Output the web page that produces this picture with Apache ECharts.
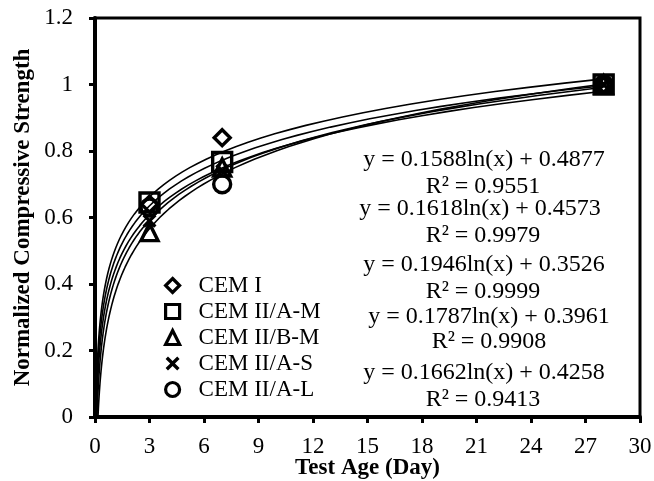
<!DOCTYPE html>
<html><head><meta charset="utf-8">
<script src="https://cdn.jsdelivr.net/npm/echarts@6/dist/echarts.min.js"></script>
<style>html,body{margin:0;padding:0;background:#fff}#c{width:654px;height:481px}</style>
</head><body><div id="c"></div>
<script>
var names = ['CEM I','CEM II/A-M','CEM II/B-M','CEM II/A-S','CEM II/A-L'];
var ages = [3, 7, 28];
var cemI   = [0.64, 0.84, 1.0];
var cemIIAM = [0.645, 0.767, 1.0];
var cemIIBM = [0.556, 0.75, 1.0];
var cemIIAS = [0.59, 0.74, 1.0];
var cemIIAL = [0.63, 0.70, 1.0];
var slopes = [0.1588, 0.1618, 0.1946, 0.1787, 0.1662];
var intercepts = [0.4877, 0.4573, 0.3526, 0.3961, 0.4258];
var r2 = ['0.9551','0.9979','0.9999','0.9908','0.9413'];
var xTicks = [0,3,6,9,12,15,18,21,24,27,30];

var values = [cemI, cemIIAM, cemIIBM, cemIIAS, cemIIAL];
var xPath = 'path://M1.7,0 L5,3.3 L8.3,0 L10,1.7 L6.7,5 L10,8.3 L8.3,10 L5,6.7 L1.7,10 L0,8.3 L3.3,5 L0,1.7 Z';
var symbols = ['diamond','rect','triangle',xPath,'circle'];
var sizes = [16,19,17,14,17];

var font = '"Liberation Serif","Times New Roman",serif';
var series = [];
// trendlines from the displayed equations
for (var i=0;i<5;i++){
  var a=slopes[i], b=intercepts[i];
  var x0 = Math.exp(-b/a);
  var pts=[[x0,0]];
  for (var k=1;k<=80;k++){ var x = x0*Math.pow(28/x0, k/80); pts.push([x, a*Math.log(x)+b]); }
  series.push({type:'line', data:pts, symbol:'none', silent:true, z:2,
    lineStyle:{color:'#000', width:1.6}, clip:true});
}
for (var j=0;j<5;j++){
  var d = ages.map(function(x,idx){return [x, values[j][idx]];});
  var isX = (j===3);
  series.push({type:'scatter', name:names[j], data:d, symbol:symbols[j], symbolSize:sizes[j], z:5,
    itemStyle: isX ? {color:'#000', borderWidth:0, opacity:1} : {color:'rgba(0,0,0,0)', borderColor:'#000', borderWidth:3.4, opacity:1}});
}
var eqTexts = [];
var eqY = [160, 209, 265, 317, 373];
var rY = [187, 236, 292, 342, 400];
var eqX = [484, 480, 484, 489, 484];
var rX = [483, 483, 483, 489, 483];
for (var m=0;m<5;m++){
  eqTexts.push({type:'text', x:eqX[m], y:eqY[m], style:{text:'y = '+slopes[m].toFixed(4)+'ln(x) + '+intercepts[m].toFixed(4), font:'24px '+font, fill:'#000', textAlign:'center', textVerticalAlign:'middle'}});
  eqTexts.push({type:'text', x:rX[m], y:rY[m], style:{text:'R² = '+r2[m], font:'24px '+font, fill:'#000', textAlign:'center', textVerticalAlign:'middle'}});
}

var chart = echarts.init(document.getElementById('c'));
chart.setOption({
  animation:false,
  grid:{left:95, right:14, top:18, bottom:64, containLabel:false, outerBoundsMode:'none', show:true, borderColor:'#000', borderWidth:3, backgroundColor:'transparent'},
  xAxis:{type:'value', min:0, max:30, interval:3,
    name:'Test Age (Day)', nameLocation:'middle', nameGap:40, nameMoveOverlap:false,
    nameTextStyle:{fontFamily:font, fontWeight:'bold', fontSize:23, color:'#000'},
    axisLine:{show:true, onZero:false, lineStyle:{color:'#000', width:4}},
    axisTick:{show:true, inside:false, length:6, lineStyle:{color:'#000', width:3}},
    axisLabel:{fontFamily:font, fontSize:23, color:'#000', margin:18},
    splitLine:{show:false}},
  yAxis:{type:'value', min:0, max:1.2, interval:0.2,
    name:'Normalized Compressive Strength', nameLocation:'middle', nameGap:60, nameMoveOverlap:false,
    nameTextStyle:{fontFamily:font, fontWeight:'bold', fontSize:23, color:'#000'},
    axisLine:{show:true, lineStyle:{color:'#000', width:4}},
    axisTick:{show:true, inside:false, length:6, lineStyle:{color:'#000', width:3}},
    axisLabel:{fontFamily:font, fontSize:23, color:'#000', margin:22},
    splitLine:{show:false}},
  legend:{data:names, orient:'vertical', left:159, top:269, itemGap:3, itemWidth:14, itemHeight:14,
    itemStyle:{borderWidth:3.2},
    textStyle:{fontFamily:font, fontSize:23, color:'#000', lineHeight:23, padding:[0,0,0,14]}, selectedMode:false},
  graphic: eqTexts,
  series: series
});
</script>
</body></html>
